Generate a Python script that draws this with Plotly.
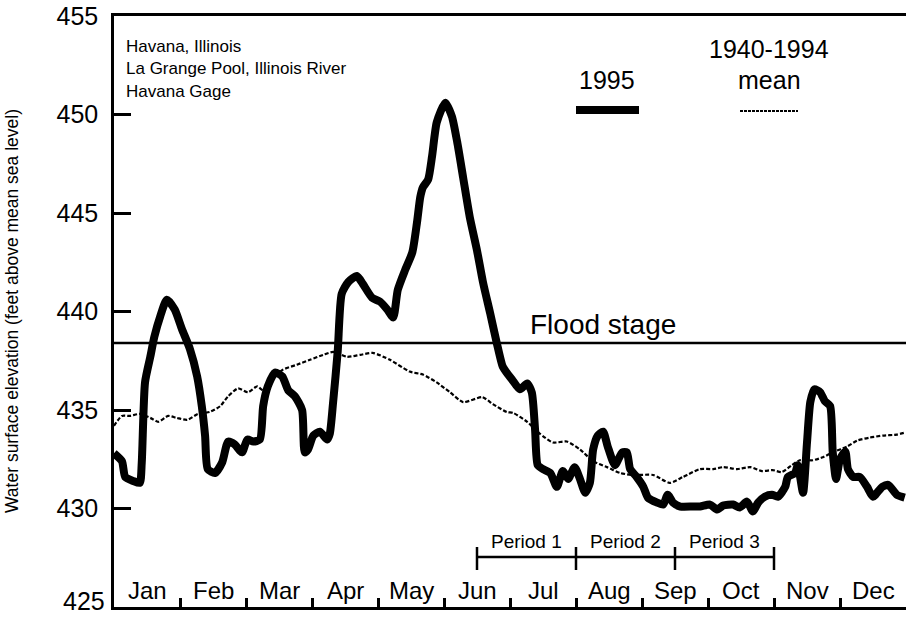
import plotly.graph_objects as go

# Havana gage, La Grange Pool, Illinois River: daily stage, position in months from Jan 1
months = ["Jan", "Feb", "Mar", "Apr", "May", "Jun", "Jul", "Aug", "Sep", "Oct", "Nov", "Dec"]

stage_1995_t = [
    0.00, 0.12, 0.17, 0.29, 0.39, 0.42, 0.47, 0.55, 0.61, 0.70, 0.80, 0.92, 1.03, 1.15, 1.26,
    1.33, 1.38, 1.42, 1.53, 1.64, 1.73, 1.83, 1.94, 2.02, 2.11, 2.21, 2.26, 2.33, 2.44, 2.55,
    2.64, 2.74, 2.85, 2.89, 2.94, 3.02, 3.12, 3.23, 3.27, 3.32, 3.39, 3.45, 3.55, 3.68, 3.77,
    3.91, 4.03, 4.14, 4.23, 4.30, 4.41, 4.52, 4.59, 4.64, 4.68, 4.76, 4.82, 4.89, 5.02, 5.12,
    5.20, 5.29, 5.39, 5.50, 5.59, 5.70, 5.80, 5.89, 5.95, 6.03, 6.15, 6.26, 6.33, 6.38, 6.42,
    6.50, 6.61, 6.71, 6.80, 6.88, 6.98, 7.06, 7.14, 7.21, 7.26, 7.33, 7.41, 7.48, 7.59, 7.70,
    7.77, 7.82, 7.92, 8.02, 8.09, 8.23, 8.32, 8.39, 8.47, 8.58, 8.77, 8.88, 9.03, 9.14, 9.23,
    9.38, 9.48, 9.59, 9.68, 9.76, 9.86, 9.97, 10.06, 10.17, 10.21, 10.32, 10.36, 10.44, 10.50,
    10.55, 10.61, 10.70, 10.77, 10.85, 10.89, 10.94, 11.00, 11.08, 11.12, 11.20, 11.30, 11.41,
    11.50, 11.64, 11.73, 11.86, 11.98,
]
stage_1995 = [
    432.8, 432.4, 431.6, 431.4, 431.3, 432.3, 436.4, 437.7, 438.7, 439.75, 440.6, 440.1, 439.1, 438.1, 436.7,
    435.2, 433.7, 432.0, 431.8, 432.35, 433.4, 433.25, 432.85, 433.5, 433.4, 433.5, 435.2, 436.2, 436.9, 436.7,
    436.0, 435.7, 435.0, 432.85, 433.0, 433.7, 433.9, 433.5, 433.8, 435.4, 438.0, 440.9, 441.5, 441.8, 441.4,
    440.7, 440.5, 440.1, 439.7, 441.1, 442.1, 443.0, 444.5, 445.8, 446.3, 446.7, 447.9, 449.6, 450.6, 449.9,
    448.6, 446.8, 444.8, 443.1, 441.5, 439.9, 438.4, 437.2, 436.9, 436.55, 436.05, 436.35, 435.9, 434.0, 432.2,
    432.0, 431.8, 431.1, 431.9, 431.5, 432.1, 431.5, 430.8, 431.3, 433.0, 433.7, 433.9, 433.15, 432.2, 432.85,
    432.85, 432.0, 431.6, 431.1, 430.55, 430.3, 430.2, 430.7, 430.3, 430.1, 430.1, 430.1, 430.2, 429.95, 430.15,
    430.2, 430.05, 430.35, 429.85, 430.3, 430.6, 430.7, 430.6, 431.1, 431.6, 431.8, 432.2, 430.8, 433.35,
    435.4, 436.05, 435.9, 435.45, 435.2, 432.85, 431.5, 432.5, 432.9, 432.0, 431.6, 431.6, 431.1,
    430.6, 431.1, 431.2, 430.7, 430.55,
]

mean_t = [
    0.00, 0.12, 0.24, 0.39, 0.55, 0.67, 0.82, 0.95, 1.11, 1.27, 1.45, 1.61, 1.73, 1.88, 2.03,
    2.17, 2.26, 2.41, 2.56, 2.77, 2.97, 3.17, 3.32, 3.53, 3.73, 3.92, 4.18, 4.48, 4.68, 4.89,
    5.09, 5.29, 5.58, 5.74, 5.95, 6.05, 6.26, 6.45, 6.65, 6.86, 7.06, 7.26, 7.47, 7.67, 7.86,
    8.17, 8.42, 8.62, 8.88, 9.08, 9.23, 9.44, 9.64, 9.82, 9.98, 10.12, 10.27, 10.39, 10.59,
    10.74, 10.89, 11.11, 11.26, 11.45, 11.65, 11.86, 11.98,
]
mean_1940_1994 = [
    434.2, 434.7, 434.7, 434.8, 434.6, 434.4, 434.7, 434.6, 434.5, 434.8, 434.9, 435.2, 435.7, 436.1, 435.9,
    436.2, 436.0, 436.6, 437.05, 437.3, 437.55, 437.8, 437.95, 437.7, 437.8, 437.9, 437.55, 436.95, 436.8, 436.4,
    435.9, 435.4, 435.65, 435.3, 434.9, 434.85, 434.4, 433.8, 433.35, 433.4, 433.0, 432.4, 432.1, 431.8, 431.7,
    431.7, 431.3, 431.6, 432.0, 432.0, 432.1, 432.0, 432.1, 431.9, 431.95, 431.85, 432.2, 432.45, 432.45,
    432.6, 432.85, 433.15, 433.45, 433.6, 433.7, 433.75, 433.85,
]

flood_stage = 438.4
y_ticks = [425, 430, 435, 440, 445, 450, 455]
period_bounds = [5.5, 7.0, 8.5, 10.0]
period_labels = ["Period 1", "Period 2", "Period 3"]
info_lines = ["Havana, Illinois", "La Grange Pool, Illinois River", "Havana Gage"]

FONT = "Liberation Sans, Arial, Helvetica, sans-serif"
W, H = 908, 617
L, R, T, B = 114, 2, 16, 10
PW, PH = W - L - R, H - T - B


def px_x(px):
    return (px - L) / PW


def px_y(py):
    return (H - B - py) / PH


fig = go.Figure()

fig.add_trace(go.Scatter(
    x=mean_t, y=mean_1940_1994, mode="lines",
    line=dict(color="black", width=2.2, dash="4px,2px", shape="spline", smoothing=0.6),
    showlegend=False, hoverinfo="skip",
))
fig.add_trace(go.Scatter(
    x=stage_1995_t, y=stage_1995, mode="lines",
    line=dict(color="black", width=8, shape="spline", smoothing=0.6),
    showlegend=False, hoverinfo="skip",
))

shapes = []
# flood stage reference line
shapes.append(dict(type="line", xref="x", yref="y", x0=0, x1=12, y0=flood_stage, y1=flood_stage,
                   line=dict(color="black", width=2.5)))
# period bracket
shapes.append(dict(type="line", xref="x", yref="paper", x0=period_bounds[0], x1=period_bounds[-1],
                   y0=px_y(557), y1=px_y(557), line=dict(color="black", width=2.5)))
for b in period_bounds:
    shapes.append(dict(type="line", xref="x", yref="paper", x0=b, x1=b,
                       y0=px_y(547), y1=px_y(570), line=dict(color="black", width=2.5)))
# legend keys
shapes.append(dict(type="line", xref="paper", yref="paper", x0=px_x(576), x1=px_x(639),
                   y0=px_y(110), y1=px_y(110), line=dict(color="black", width=8)))
shapes.append(dict(type="line", xref="paper", yref="paper", x0=px_x(740), x1=px_x(798),
                   y0=px_y(111), y1=px_y(111), line=dict(color="black", width=2, dash="3px,1px")))

ann = []
for i, m in enumerate(months):
    ann.append(dict(x=i + 0.5, y=px_y(590), xref="x", yref="paper", text=m, showarrow=False,
                    xanchor="center", yanchor="middle", font=dict(size=24)))
for i, lab in enumerate(period_labels):
    ann.append(dict(x=(period_bounds[i] + period_bounds[i + 1]) / 2, y=px_y(541), xref="x", yref="paper",
                    text=lab, showarrow=False, xanchor="center", yanchor="middle", font=dict(size=19)))
for i, line in enumerate(info_lines):
    ann.append(dict(x=px_x(124), y=px_y(46 + 22.5 * i), xref="paper", yref="paper", text=line,
                    showarrow=False, xanchor="left", yanchor="middle", font=dict(size=17)))
ann.append(dict(x=px_x(603), y=flood_stage, xref="paper", yref="y", text="Flood stage", showarrow=False,
                xanchor="center", yanchor="bottom", yshift=1, font=dict(size=28)))
ann.append(dict(x=px_x(607), y=px_y(80), xref="paper", yref="paper", text="1995", showarrow=False,
                xanchor="center", yanchor="middle", font=dict(size=25)))
ann.append(dict(x=px_x(769), y=px_y(49), xref="paper", yref="paper", text="1940-1994", showarrow=False,
                xanchor="center", yanchor="middle", font=dict(size=25)))
ann.append(dict(x=px_x(769), y=px_y(80), xref="paper", yref="paper", text="mean", showarrow=False,
                xanchor="center", yanchor="middle", font=dict(size=25)))
ann.append(dict(x=px_x(12), y=px_y(311), xref="paper", yref="paper",
                text="Water surface elevation (feet above mean sea level)", showarrow=False,
                textangle=-90, xanchor="center", yanchor="middle", font=dict(size=17.5)))
# lowest elevation label sits on the page's bottom edge, so it is placed just inside it
ann.append(dict(x=0, y=y_ticks[0], xref="paper", yref="y", text=str(y_ticks[0]), showarrow=False,
                xanchor="right", yanchor="bottom", xshift=-8, yshift=-9, borderpad=0,
                font=dict(size=25)))

fig.update_layout(
    width=W, height=H,
    margin=dict(l=L, r=R, t=T, b=B, autoexpand=False),
    paper_bgcolor="white", plot_bgcolor="white",
    font=dict(family=FONT, color="black"),
    shapes=shapes, annotations=ann,
    xaxis=dict(range=[0, 12], showgrid=False, zeroline=False, showline=True, linecolor="black",
               linewidth=2.5, mirror=True, ticks="inside", ticklen=9, tickwidth=2.5, tickcolor="black",
               tickvals=list(range(0, 13)), showticklabels=False, fixedrange=True, automargin=False),
    yaxis=dict(range=[425, 455], showgrid=False, zeroline=False, showline=True, linecolor="black",
               linewidth=2.5, ticks="inside", ticklen=17, tickwidth=2.5, tickcolor="black",
               tickvals=y_ticks, ticktext=[""] + [str(v) for v in y_ticks[1:]], tickfont=dict(size=25),
               ticklabelstandoff=8, ticklabeloverflow="allow", fixedrange=True, automargin=False),
)

fig.write_html("out.html")
